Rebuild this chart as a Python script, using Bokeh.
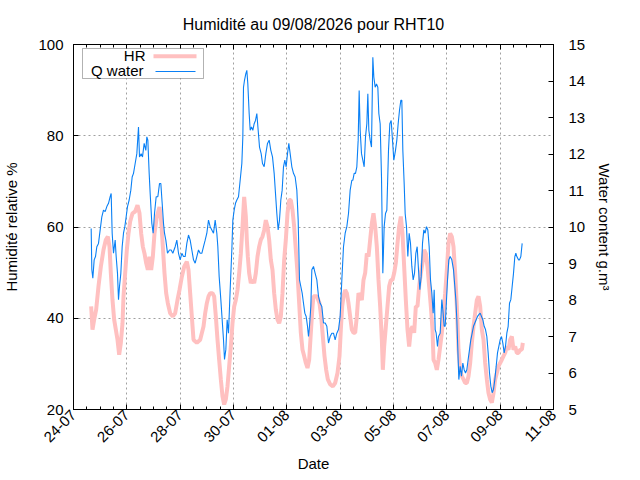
import datetime

from bokeh.embed import file_html
from bokeh.models import (BoxAnnotation, CustomJSTickFormatter, DatetimeAxis,
                          FixedTicker, Label, LinearAxis, Range1d,
                          SingleIntervalTicker)
from bokeh.plotting import figure
from bokeh.resources import INLINE

FONT = "Liberation Sans"
START = datetime.datetime(2026, 7, 24)
END = datetime.datetime(2026, 8, 11)

# relative humidity (%), hours since 24-07 00:00
hr_hours = [
    15.9, 17.1, 18.6, 20.4, 22.5, 24.6, 27.0, 29.1, 30.9, 32.4,
    33.6, 35.1, 36.6, 38.1, 39.6, 41.1, 42.6, 44.1, 45.0, 46.5,
    48.0, 49.5, 51.0, 53.1, 55.5, 57.6, 59.4, 60.9, 62.4, 63.9,
    65.4, 66.9, 68.4, 69.9, 71.4, 72.9, 75.0, 77.4, 78.9, 80.4,
    81.9, 83.4, 84.9, 87.0, 89.4, 91.5, 93.6, 95.4, 97.5, 99.6,
    102.0, 103.5, 105.0, 106.5,
    108, 111, 114, 117, 118.5, 120, 121.5, 123, 125.1, 126.6,
    128.1, 129.6, 131.1, 132.6, 134.1, 135.6, 137.1, 138.6, 140.1, 141.6,
    143.1, 144.6, 146.1, 147.6, 149.1, 150.6, 152.1, 153.6, 155.1, 156.0,
    156.9, 158.1, 159.6, 161.1, 162.6, 164.1, 165.6, 167.1, 168.6, 170.1,
    171.6, 173.1, 174.6, 176.1, 177.6, 179.1, 180.6, 182.1, 183.6, 185.1,
    186.6, 188.1, 189.6, 191.1, 192.6, 194.1, 195.6, 197.1, 198.6, 200.1,
    201.6, 203.1, 204.6, 206.1, 207.6, 209.1, 210.6, 212.1, 213.6, 215.1,
    216, 219, 221.4, 222.9, 224.4, 225.9, 227.4, 228.9, 231, 233.4,
    235.5, 237.6, 239.4, 240.6, 241.8, 243, 244.5, 246, 247.5, 249,
    250.5, 252, 253.5, 255, 256.5, 258, 259.5, 261, 262.5, 264,
    265.5, 267, 268.5, 270, 271.5, 273, 274.5, 276, 277.5, 278.4,
    279.6, 281.1, 282.6, 284.1, 285.6, 287.1, 288.6, 290.1, 291.6, 293.1,
    294.6, 296.1, 297.6, 299.1, 300.6, 302.1, 303.6, 305.1, 306.6, 308.1,
    309.6, 311.1, 312.6, 314.1, 315.6, 317.1, 318.6, 320.1, 321.6, 323.1,
    324, 325.5, 327, 328.5, 330, 331.5, 333, 334.5, 336, 337.5,
    339, 340.5, 342, 343.5, 345, 346.5, 348, 349.5, 351, 352.5,
    354, 355.5, 357, 358.5, 360, 361.5, 363, 364.5, 366, 367.5,
    369, 370.5, 372, 373.5, 375, 376.5, 378, 379.5, 381, 382.5,
    384, 385.5, 387, 388.5, 390, 391.5, 393, 394.5, 396, 397.5,
    399, 400.5, 402, 403.5, 404.4,
]
hr_values = [
    42.6, 37.5, 39.7, 41.9, 47.0, 51.3, 55.0, 57.2, 57.9, 55.7,
    49.9, 44.0, 39.7, 37.5, 35.3, 32.0, 34.6, 38.9, 44.8, 49.9,
    55.0, 58.6, 61.2, 63.0, 63.4, 64.8, 63.0, 58.6, 55.7, 54.2,
    52.1, 50.6, 53.5, 50.6, 53.5, 58.6, 62.3, 64.4, 61.5, 55.7,
    49.9, 45.5, 43.3, 41.1, 40.4, 41.1, 44.0, 46.2, 49.1, 51.3,
    52.4, 50.6, 45.5, 40.4,
    35.3, 34.6, 35.3, 38.2, 41.1, 43.3, 44.8, 45.5, 45.5, 44.8,
    40.4, 35.3, 30.9, 26.6, 22.9, 21.1, 22.2, 25.1, 29.5, 33.8,
    38.9, 42.6, 44.0, 46.2, 49.9, 54.2, 60.1, 66.6, 62.3, 57.2,
    53.5, 49.9, 47.7, 48.4, 47.7, 49.9, 53.5, 55.7, 57.2, 57.9,
    59.3, 61.5, 60.1, 57.2, 52.8, 50.6, 45.5, 41.9, 39.7, 38.9,
    40.4, 45.5, 52.8, 57.2, 63.0, 65.9, 65.9, 63.7, 60.1, 55.0,
    49.9, 43.3, 36.8, 33.1, 31.7, 30.2, 29.1, 30.9, 36.8, 42.6,
    44.8, 44.8, 43.3, 40.4, 36.0, 31.7, 28.7, 26.6, 25.5, 25.1,
    25.8, 28.0, 31.7, 37.5, 42.6, 44.8, 46.2, 45.5, 43.3, 40.4,
    37.5, 36.8, 36.8, 40.4, 45.5, 44.8, 44.0, 48.4, 49.9, 54.2,
    53.5, 57.2, 60.8, 63.0, 60.1, 55.7, 48.4, 42.6, 35.3, 28.7,
    33.8, 38.2, 42.6, 47.0, 48.4, 48.4, 49.9, 52.1, 56.4, 60.1,
    62.3, 58.6, 51.3, 44.0, 37.5, 33.8, 37.5, 38.2, 36.8, 42.6,
    42.6, 47.0, 49.9, 52.1, 55.0, 54.2, 51.3, 47.0, 42.6, 37.5,
    30.9, 30.2, 28.7, 30.9, 33.8, 36.8, 41.1, 45.5, 50.6, 56.4,
    58.6, 57.9, 55.7, 49.9, 42.6, 33.1, 28.7, 27.3, 26.6, 25.8,
    25.8, 27.3, 30.2, 34.6, 38.2, 41.1, 44.0, 44.8, 42.6, 37.5,
    35.3, 30.2, 26.6, 23.6, 22.2, 21.5, 23.6, 26.6, 28.0, 29.5,
    30.2, 30.9, 31.7, 32.4, 33.8, 33.1, 35.3, 36.0, 33.1, 33.8,
    32.4, 32.4, 33.1, 33.1, 34.6,
]

# water content (g/m3), hours since 24-07 00:00
q_hours = [
    15.9, 16.5, 17.4, 18.6, 19.8, 21.0, 22.5, 24.0, 25.5, 27.0,
    28.5, 30.0, 31.5, 33.0, 33.9, 34.8, 36.0, 37.5, 38.4, 39.6,
    40.5, 41.4, 42.6, 43.8, 45.0, 46.2, 47.4, 48.6, 50.1, 51.6,
    52.8, 54.0, 55.5, 57.0, 58.5, 59.4, 60.9, 62.1, 63.6, 65.1,
    66.0, 66.9, 68.1, 69.0, 70.5, 71.7, 72.9, 74.4, 75.9, 77.4,
    78.6, 79.8, 81.0, 81.9, 83.1, 84.6, 86.4, 87.9, 89.4, 91.5,
    93.0, 94.5, 96.0, 97.5, 99.0, 100.5, 102.0, 103.5, 105.0, 106.5,
    108, 109.5, 111, 112.5, 114, 115.5, 117, 118.5, 120, 121.5,
    123, 124.5, 126, 127.5, 129, 129.9, 131.1, 132.6, 133.8, 135,
    135.9, 137.1, 138.3, 139.5, 141, 142.5, 143.4, 144.6, 145.8, 147,
    148.5, 150, 151.5, 152.4, 153, 153.9, 155.1, 156, 156.9, 158.1,
    159, 160.2, 161.4, 162.6, 163.8, 165, 166.2, 167.4, 168.9, 170.1,
    171.6, 173.1, 174.6, 176.1, 177.6, 179.1, 180.6, 181.8, 183, 184.2,
    185.4, 186.6, 187.8, 189, 190.2, 191.4, 192.6, 193.8, 195, 196.5,
    198, 199.5, 201, 202.2, 203.4, 204.6, 205.8, 207, 208.2, 209.4,
    210.6, 211.5, 212.4, 213.6, 214.5,
    216, 217.5, 219, 220.5, 222, 223.5, 225, 226.5, 228, 229.5,
    231, 232.5, 234, 235.5, 237, 238.5, 240, 241.5, 243, 244.5,
    246, 247.5, 249, 250.5, 251.4, 252.6, 253.8, 255, 256.2, 257.1,
    258, 259.2, 260.4, 261.6, 262.8, 264, 264.9, 265.8, 267, 268.2,
    269.4, 270.3, 271.5, 272.7, 273.9, 274.8, 276, 277.2, 278.4, 279.6,
    280.8, 282, 283.5, 284.7, 285.9, 287.1, 288.3, 289.8, 291, 292.2,
    293.4, 294.6, 295.5, 296.4, 297.6, 298.5, 299.7, 300.9, 302.1, 303.3,
    304.5, 305.7, 306.9, 308.1, 309.3, 310.5, 311.7, 312.9, 314.1, 315.3,
    316.5, 317.7, 318.9, 320.1, 321.3, 322.5, 323.7,
    324, 324.6, 325.5, 326.4, 327.6, 328.5, 330, 331.5, 332.4, 333.6,
    334.5, 335.4, 336.6, 337.8, 339, 340.5, 342, 343.2, 344.1, 345,
    345.9, 346.8, 348, 349.2, 350.4, 351.6, 352.8, 354, 355.2, 356.4,
    357.6, 358.8, 360, 361.2, 362.4, 363.6, 364.8, 366, 367.2, 368.4,
    369.6, 370.8, 372, 373.2, 374.4, 375.6, 376.8, 378, 379.2, 380.4,
    381.6, 382.8, 384, 385.2, 386.4, 387.6, 388.8, 390, 391.2, 392.4,
    393.6, 394.8, 396, 397.2, 398.1, 399, 400.5, 401.4, 402.6, 403.8,
]
q_values = [
    9.96, 8.83, 8.60, 9.10, 9.19, 9.46, 9.55, 9.92, 10.28, 10.46,
    10.42, 10.56, 10.65, 10.83, 10.92, 9.83, 9.28, 9.64, 9.19, 8.73,
    8.01, 8.37, 8.73, 9.46, 9.83, 10.01, 10.28, 10.56, 10.74, 11.01,
    11.37, 11.47, 11.74, 12.01, 12.74, 11.92, 12.01, 11.92, 12.29, 12.10,
    12.47, 12.38, 11.47, 10.92, 10.10, 9.83, 10.37, 10.83, 10.83, 11.19,
    11.19, 10.65, 10.10, 9.83, 9.64, 9.28, 9.37, 9.37, 9.28, 9.46,
    9.64, 9.28, 9.10, 9.28, 9.19, 9.19, 9.55, 9.78, 9.64, 9.37,
    9.10, 9.01, 9.19, 9.37, 9.28, 9.28, 9.46, 9.64, 9.83, 10.19,
    10.01, 9.92, 9.83, 10.19, 9.83, 9.46, 8.64, 8.01, 7.46, 6.91,
    6.37, 6.64, 7.46, 7.09, 8.28, 9.37, 10.19, 10.46, 10.65, 10.74,
    10.83, 11.28, 11.74, 12.47, 13.83, 14.02, 14.20, 14.29, 13.92, 13.11,
    12.65, 12.74, 12.65, 12.83, 12.92, 13.11, 12.65, 12.19, 12.01, 11.74,
    11.65, 12.01, 12.29, 12.38, 12.10, 11.92, 11.47, 10.92, 10.37, 9.92,
    10.19, 10.74, 11.01, 11.65, 11.83, 11.65, 12.01, 12.29, 12.01, 11.65,
    11.47, 11.37, 11.01, 10.19, 8.55, 8.37, 8.19, 7.91, 7.64, 7.55,
    7.28, 7.00, 7.28, 7.82, 8.83,
    8.92, 8.73, 8.55, 8.10, 7.91, 7.82, 7.37, 7.37, 7.28, 6.82,
    7.00, 7.09, 7.09, 6.91, 7.09, 7.19, 7.55, 8.55, 9.46, 9.83,
    10.01, 10.37, 11.01, 11.28, 11.28, 11.47, 11.47, 11.65, 12.38, 13.74,
    12.65, 12.01, 11.83, 11.65, 12.47, 12.83, 13.65, 12.65, 12.38, 12.19,
    14.65, 14.11, 13.83, 13.92, 13.83, 13.11, 12.83, 11.37, 8.73, 10.01,
    10.37, 10.46, 12.10, 12.83, 12.92, 12.38, 11.83, 12.10, 12.38, 12.83,
    13.20, 13.47, 13.47, 12.10, 11.19, 10.37, 10.01, 9.19, 9.83, 9.55,
    8.92, 8.55, 8.73, 9.28, 9.46, 8.83, 8.28, 8.64, 9.55, 9.92,
    9.83, 10.01, 9.92, 9.46, 8.55, 8.19, 7.64,
    7.82, 8.28, 7.19, 7.09, 6.73, 7.00, 7.09, 8.01, 7.73, 7.28,
    7.28, 7.82, 8.55, 9.10, 9.19, 9.10, 8.83, 8.37, 8.01, 7.46,
    6.64, 5.82, 6.18, 5.91, 6.27, 6.09, 6.00, 6.09, 6.37, 6.64,
    6.91, 7.09, 7.28, 7.37, 7.46, 7.55, 7.60, 7.64, 7.55, 7.46,
    7.28, 7.19, 7.00, 6.55, 6.00, 5.64, 5.46, 5.55, 5.82, 6.18,
    6.55, 6.73, 6.91, 7.00, 6.82, 6.55, 6.73, 7.09, 7.28, 7.91,
    8.01, 8.37, 8.73, 9.19, 9.28, 9.19, 9.10, 9.10, 9.19, 9.55,
]

hr_ticks = [20, 40, 60, 80, 100]
legend_labels = ["HR", "Q water"]


def to_ms(d):
    return (d - datetime.datetime(1970, 1, 1)).total_seconds() * 1000.0


def main():
    hr_time = [START + datetime.timedelta(hours=h) for h in hr_hours]
    q_time = [START + datetime.timedelta(hours=h) for h in q_hours]

    p = figure(width=632, height=474, x_axis_type="datetime",
               x_range=Range1d(START, END), y_range=Range1d(20, 100),
               output_backend="svg", toolbar_location=None,
               min_border_left=73, min_border_right=79,
               min_border_top=44, min_border_bottom=64,
               title="Humidité au 09/08/2026 pour RHT10")
    p.extra_y_ranges = {"water": Range1d(5, 15)}

    p.title.align = "center"
    p.title.text_font = FONT
    p.title.text_font_size = "16px"
    p.title.text_font_style = "normal"
    p.title.text_color = "black"
    p.title.standoff = 23
    p.outline_line_color = "black"

    day_ms = 24 * 3600 * 1000.0
    major = [to_ms(START) + 2 * k * day_ms for k in range(10)]
    minor = [to_ms(START) + k * day_ms / 2 for k in range(37)]
    ticker = FixedTicker(ticks=major, minor_ticks=minor)
    date_fmt = CustomJSTickFormatter(code="""
        const d = new Date(tick);
        const dd = String(d.getUTCDate()).padStart(2, '0');
        const mm = String(d.getUTCMonth() + 1).padStart(2, '0');
        return dd + '-' + mm;
    """)

    xaxis = p.xaxis[0]
    xaxis.ticker = ticker
    xaxis.formatter = date_fmt
    xaxis.major_label_orientation = 0.785398
    xaxis.axis_label = "Date"

    yaxis = p.yaxis[0]
    yaxis.ticker = FixedTicker(ticks=hr_ticks)
    yaxis.axis_label = "Humidité relative %"

    raxis = LinearAxis(y_range_name="water", axis_label="Water content g.m³",
                       ticker=SingleIntervalTicker(interval=1, num_minor_ticks=0))
    p.add_layout(raxis, "right")

    taxis = DatetimeAxis(ticker=ticker,
                         formatter=CustomJSTickFormatter(code="return '';"))
    p.add_layout(taxis, "above")

    for ax in [xaxis, yaxis, raxis, taxis]:
        ax.axis_line_color = "black"
        ax.major_tick_line_color = "black"
        ax.minor_tick_line_color = "black"
        ax.major_tick_in = 5
        ax.major_tick_out = 0
        ax.minor_tick_in = 3
        ax.minor_tick_out = 0
        ax.major_label_text_font = FONT
        ax.major_label_text_font_size = "15px"
        ax.major_label_text_color = "black"
        ax.axis_label_text_font = FONT
        ax.axis_label_text_font_size = "15px"
        ax.axis_label_text_font_style = "normal"
        ax.axis_label_text_color = "black"
    yaxis.minor_tick_line_color = None
    raxis.minor_tick_line_color = None
    yaxis.major_label_standoff = 10
    yaxis.axis_label_standoff = 15
    raxis.major_label_standoff = 15
    raxis.axis_label_standoff = 8
    xaxis.major_label_standoff = 3
    xaxis.axis_label_standoff = 5
    taxis.major_label_standoff = 0
    taxis.major_label_text_font_size = "1px"

    for g in [p.xgrid[0], p.ygrid[0]]:
        g.grid_line_color = "#a0a0a0"
        g.grid_line_dash = "2 3"
        g.grid_line_width = 1

    p.line(hr_time, hr_values, line_color="#ffc0c0", line_width=4)
    p.line(q_time, q_values, line_color="#0a80f5", line_width=1.1,
           y_range_name="water")

    # gnuplot style key: text on the left, sample on the right
    p.add_layout(BoxAnnotation(left=9, right=130, bottom=331, top=361,
                               left_units="screen", right_units="screen",
                               bottom_units="screen", top_units="screen",
                               fill_color="white", fill_alpha=1.0,
                               line_color="black", line_width=1))
    p.add_layout(BoxAnnotation(left=80, right=123, bottom=351.3, top=355.3,
                               left_units="screen", right_units="screen",
                               bottom_units="screen", top_units="screen",
                               fill_color="#ffc0c0", fill_alpha=1.0,
                               line_color=None))
    p.add_layout(BoxAnnotation(left=82, right=122, bottom=337.5, top=338.6,
                               left_units="screen", right_units="screen",
                               bottom_units="screen", top_units="screen",
                               fill_color="#0a80f5", fill_alpha=1.0,
                               line_color=None))
    for label, (lx, ly) in zip(legend_labels, [(72, 354.5), (70, 339)]):
        p.add_layout(Label(x=lx, y=ly, x_units="screen", y_units="screen",
                           text=label, text_align="right",
                           text_baseline="middle", text_font=FONT,
                           text_font_size="15px", text_color="black"))

    with open("out.html", "w") as f:
        f.write(file_html(p, INLINE))


if __name__ == '__main__':
    main()
